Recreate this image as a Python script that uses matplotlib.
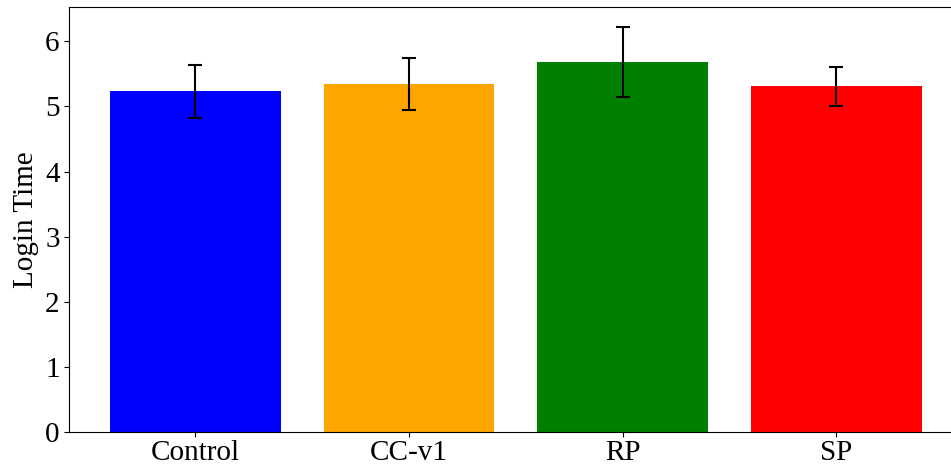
import matplotlib.pyplot as plt
from matplotlib.ticker import MultipleLocator

plt.rcParams['font.family'] = ['Liberation Serif', 'DejaVu Serif']

# login time per condition
groups = ['Control', 'CC-v1', 'RP', 'SP']
means = [5.23, 5.35, 5.68, 5.31]
errs = [0.40, 0.40, 0.54, 0.30]
colors = ['blue', 'orange', 'green', 'red']

fig = plt.figure(figsize=(9.51, 4.68), dpi=100)
# right edge of the axes runs past the figure, like the cropped original
ax = fig.add_axes([0.0729, 0.0763, 0.939, 0.9094])

ax.bar(groups, means, yerr=errs, color=colors, capsize=5,
       error_kw={'elinewidth': 1.5, 'capthick': 1.5, 'ecolor': 'black'})

ax.yaxis.set_major_locator(MultipleLocator(1))
ax.set_ylabel('Login Time', fontsize=21)
ax.tick_params(axis='both', labelsize=21)
ax.tick_params(axis='x', pad=2)

fig.savefig('out.png', dpi=100)
